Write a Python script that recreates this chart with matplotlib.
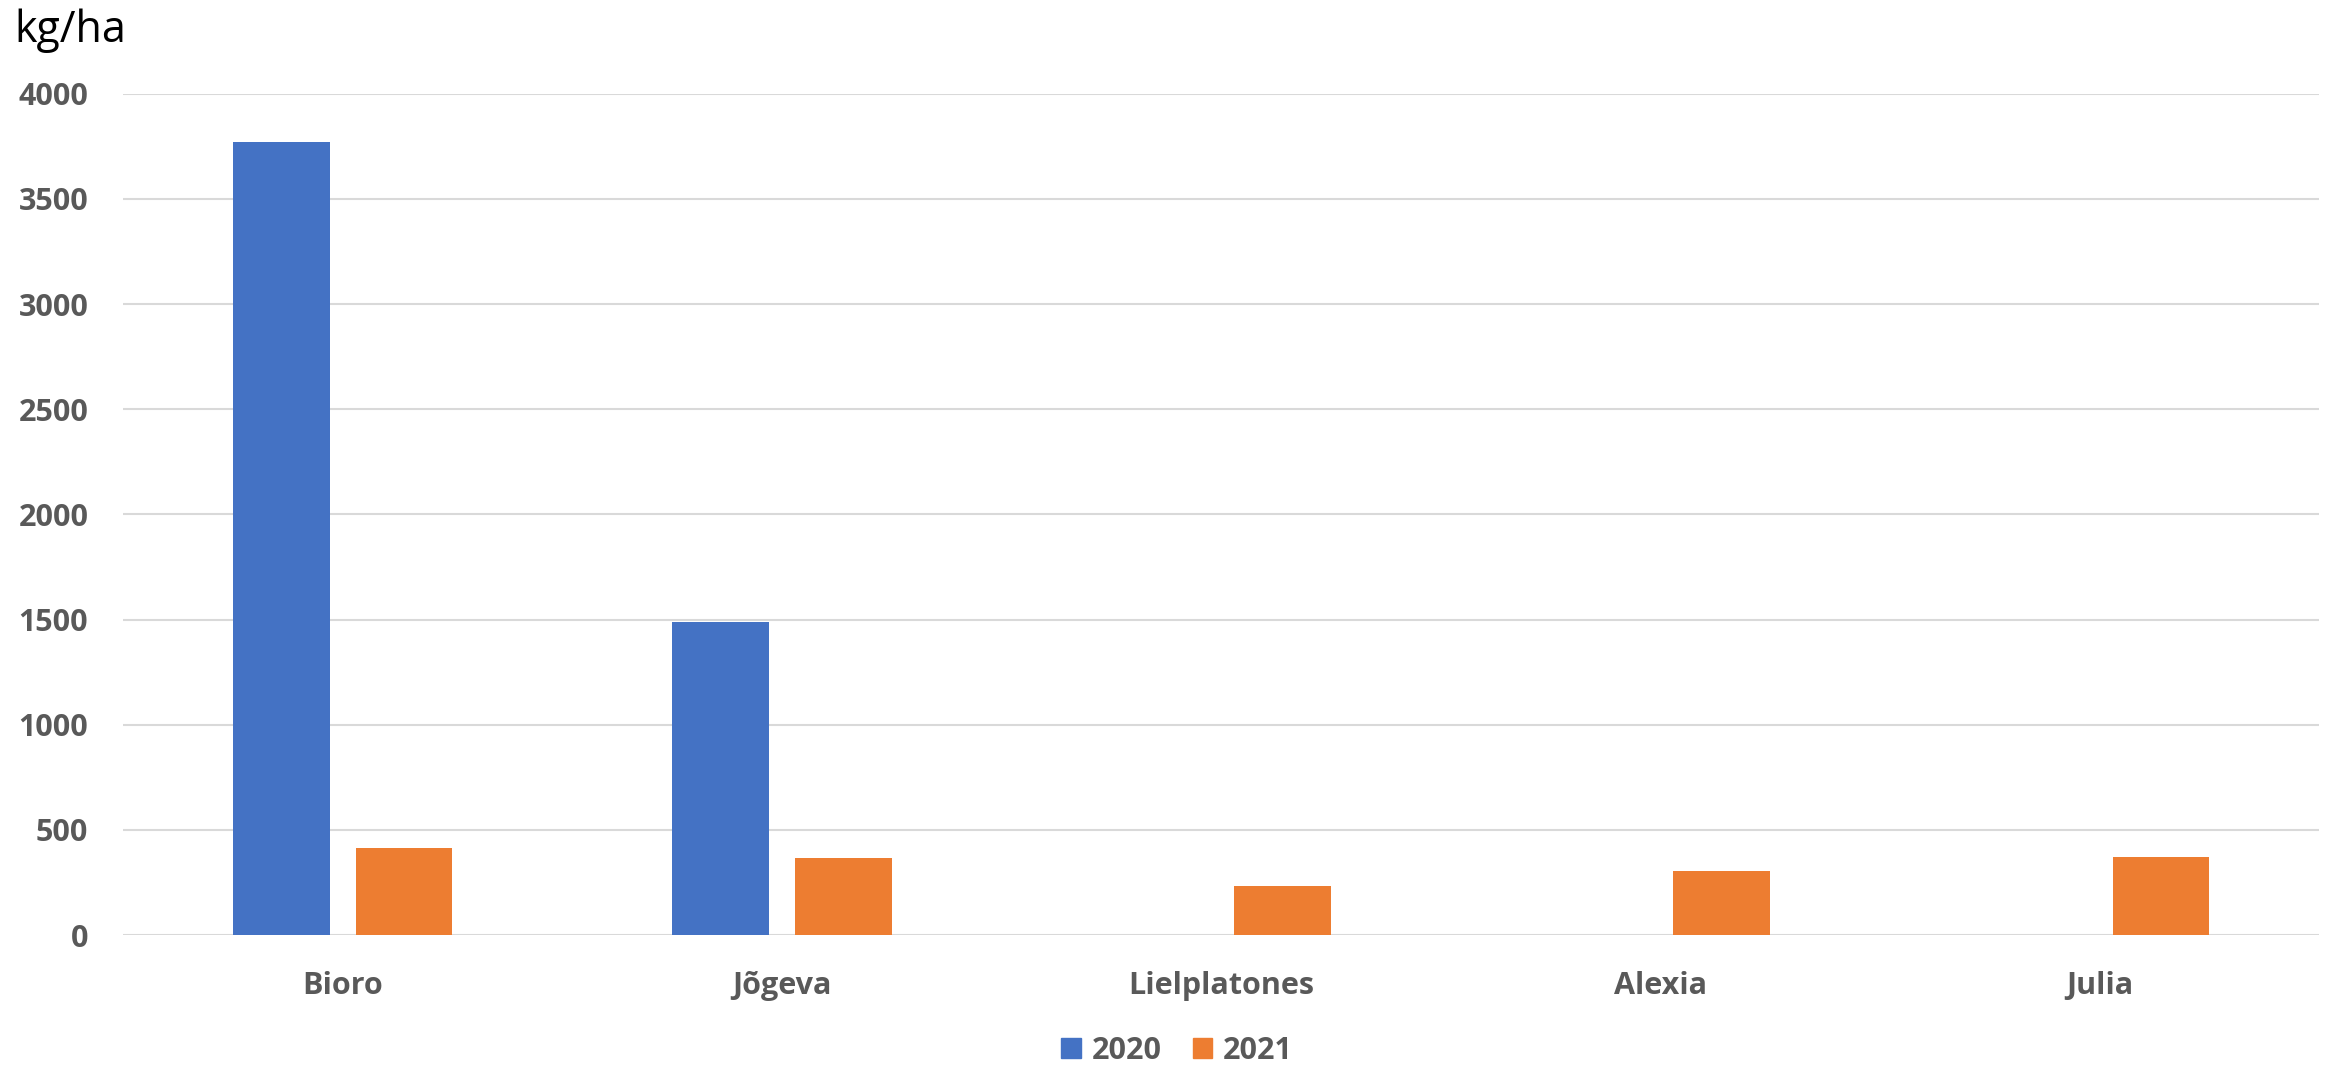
import matplotlib.pyplot as plt
import numpy as np
from matplotlib.patches import Patch

plt.rcParams['font.family'] = ['Open Sans', 'DejaVu Sans']

categories = ['Bioro', 'Jõgeva', 'Lielplatones', 'Alexia', 'Julia']
yield_2020 = [3770, 1490, 0, 0, 0]
yield_2021 = [413, 366, 232, 303, 373]
series_labels = ['2020', '2021']
y_ticks = [0, 500, 1000, 1500, 2000, 2500, 3000, 3500, 4000]

blue = '#4472C4'
orange = '#ED7D31'
grey = '#595959'

fig = plt.figure(figsize=(23.31, 10.68), dpi=100)
ax = fig.add_axes([0.0528, 0.1245, 0.9421, 0.7878])

x = np.arange(len(categories))
width = 0.22
off = 0.14
ax.bar(x - off, yield_2020, width, color=blue, linewidth=0, zorder=3)
ax.bar(x + off, yield_2021, width, color=orange, linewidth=0, zorder=3)

ax.set_xlim(-0.5, len(categories) - 0.5)
ax.set_ylim(0, 4000)
ax.set_yticks(y_ticks)
ax.set_yticklabels([str(t) for t in y_ticks])
ax.set_xticks(x)
ax.set_xticklabels(categories)
ax.grid(axis='y', color='#D9D9D9', linewidth=1.5, zorder=0)
ax.set_axisbelow(True)
for s in ax.spines.values():
    s.set_visible(False)
ax.tick_params(axis='both', length=0, labelsize=22, labelcolor=grey)
ax.tick_params(axis='y', pad=25)
ax.tick_params(axis='x', pad=26)
for lab in ax.get_xticklabels() + ax.get_yticklabels():
    lab.set_fontweight('bold')

fig.text(0.006, 0.992, 'kg/ha', fontsize=31, color='black', ha='left', va='top')

handles = [Patch(color=blue, label=series_labels[0]),
           Patch(color=orange, label=series_labels[1])]
fig.legend(handles=handles, loc='center', bbox_to_anchor=(0.505, 0.016),
           ncol=2, frameon=False, handlelength=0.65, handleheight=0.65,
           handletextpad=0.35, columnspacing=1.0,
           prop={'size': 22, 'weight': 'bold'}, labelcolor=grey)

fig.savefig('out.png', dpi=100)
